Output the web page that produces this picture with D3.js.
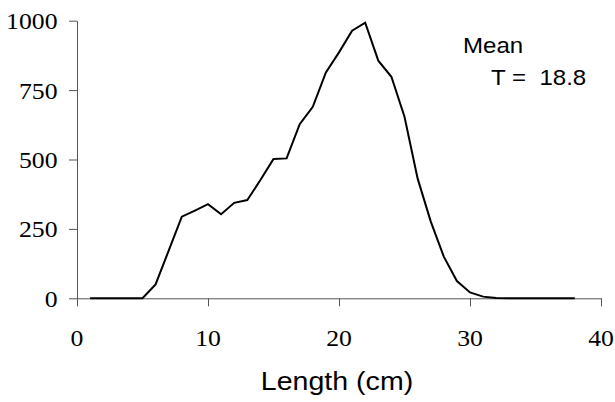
<!DOCTYPE html>
<html>
<head>
<meta charset="utf-8">
<script src="https://cdn.jsdelivr.net/npm/d3@7"></script>
<style>
  html, body { margin: 0; padding: 0; background: #fff; }
  svg { display: block; }
</style>
</head>
<body>
<svg id="chart" width="615" height="402"></svg>
<script>
// Length-frequency distribution
const lengths = [1, 2, 3, 4, 5, 6, 7, 8, 9, 10, 11, 12, 13, 14, 15, 16, 17, 18, 19,
                 20, 21, 22, 23, 24, 25, 26, 27, 28, 29, 30, 31, 32, 33, 34, 35, 36, 37, 38];
const counts = [0, 0, 0, 0, 0, 50, 172, 294, 316, 339, 303, 344, 354, 426, 502, 504, 627, 690, 814,
                886, 964, 993, 856, 798, 654, 432, 277, 150, 62, 21, 6, 1, 0, 0, 0, 0, 0, 0];
const xTicks = [0, 10, 20, 30, 40];
const yTicks = [0, 250, 500, 750, 1000];
const xTitle = "Length (cm)";
const noteLines = ["Mean", "T =  18.8"];

const svg = d3.select("#chart");
const stretch = 1.12; // text is slightly wider than its height
const serifFamily = '"Liberation Serif"';
const sansFamily = '"Liberation Sans"';

const x = d3.scaleLinear().domain([0, 40]).range([77, 601]);
const y = d3.scaleLinear().domain([0, 1000]).range([298.3, 20.7]);

const axisColor = "#555";

// axis lines and tick marks
const gy = svg.append("g")
  .attr("transform", `translate(${x(0)},0)`)
  .call(d3.axisLeft(y).tickValues(yTicks).tickSize(8).tickSizeOuter(0).tickFormat(""));
const gx = svg.append("g")
  .attr("transform", `translate(0,${y(0)})`)
  .call(d3.axisBottom(x).tickValues(xTicks).tickSize(8).tickSizeOuter(0).tickFormat(""));
svg.selectAll(".domain, .tick line").attr("stroke", axisColor);
svg.selectAll(".tick text").remove();

// tick labels
svg.append("g").selectAll("text")
  .data(yTicks)
  .join("text")
  .attr("transform", d => `translate(57.5,${y(d) + 8.5}) scale(${stretch},1)`)
  .attr("text-anchor", "end")
  .style("font-family", serifFamily)
  .style("font-size", "23px")
  .attr("fill", "#000")
  .text(d => d3.format("d")(d));

svg.append("g").selectAll("text")
  .data(xTicks)
  .join("text")
  .attr("transform", d => `translate(${x(d)},${y(0) + 48}) scale(${stretch},1)`)
  .attr("text-anchor", "middle")
  .style("font-family", serifFamily)
  .style("font-size", "23px")
  .attr("fill", "#000")
  .text(d => d3.format("d")(d));

// x axis title
svg.append("text")
  .attr("transform", `translate(337,390) scale(${stretch},1)`)
  .attr("text-anchor", "middle")
  .style("font-family", sansFamily)
  .style("font-size", "25.5px")
  .attr("fill", "#000")
  .text(xTitle);

// frequency line
const line = d3.line()
  .x((d, i) => x(lengths[i]))
  .y(d => y(d));
svg.append("path")
  .datum(counts)
  .attr("d", line)
  .attr("fill", "none")
  .attr("stroke", "#000")
  .attr("stroke-width", 2)
  .attr("stroke-linejoin", "miter");

// annotation
const notePos = [[463, 52.7], [491, 85]];
noteLines.forEach((t, i) => {
  svg.append("text")
    .attr("transform", `translate(${notePos[i][0]},${notePos[i][1]}) scale(${stretch},1)`)
    .style("font-family", sansFamily)
    .style("font-size", "21.5px")
    .style("white-space", "pre")
    .attr("fill", "#000")
    .text(t);
});
</script>
</body>
</html>
